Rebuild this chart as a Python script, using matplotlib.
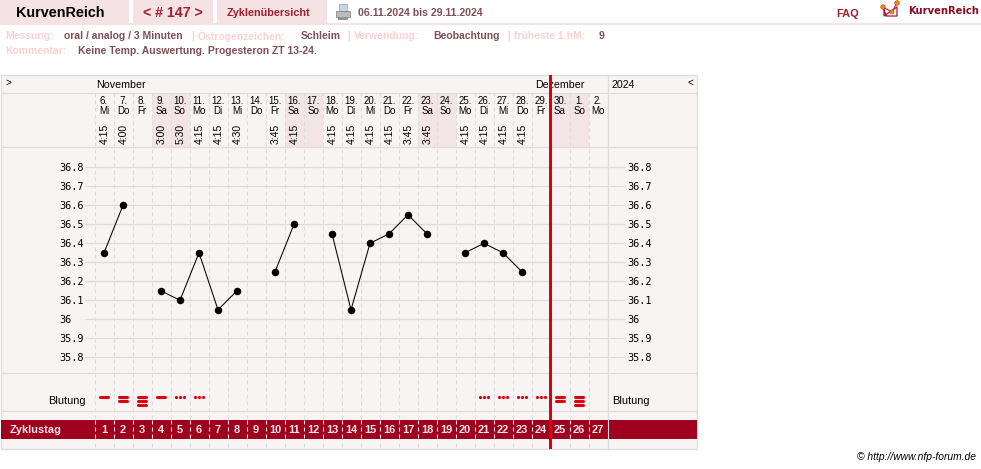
import numpy as np
import matplotlib
matplotlib.use("Agg")
import matplotlib.pyplot as plt
from matplotlib.patches import Rectangle, Circle

plt.rcParams["font.family"] = "Liberation Sans"

# Chart data
cycle_days = list(range(1, 28))
dates = ["6.", "7.", "8.", "9.", "10.", "11.", "12.", "13.", "14.", "15.", "16.", "17.", "18.", "19.",
         "20.", "21.", "22.", "23.", "24.", "25.", "26.", "27.", "28.", "29.", "30.", "1.", "2."]
weekdays = ["Mi", "Do", "Fr", "Sa", "So", "Mo", "Di", "Mi", "Do", "Fr", "Sa", "So", "Mo", "Di",
            "Mi", "Do", "Fr", "Sa", "So", "Mo", "Di", "Mi", "Do", "Fr", "Sa", "So", "Mo"]
times = ["4:15", "4:00", "", "3:00", "5:30", "4:15", "4:15", "4:30", "", "3:45", "4:15", "", "4:15", "4:15",
         "4:15", "4:15", "3:45", "3:45", "", "4:15", "4:15", "4:15", "4:15", "", "", "", ""]
temps = [36.35, 36.6, np.nan, 36.15, 36.1, 36.35, 36.05, 36.15, np.nan, 36.25, 36.5, np.nan, 36.45, 36.05,
         36.4, 36.45, 36.55, 36.45, np.nan, 36.35, 36.4, 36.35, 36.25, np.nan, np.nan, np.nan, np.nan]
# 0 none, 1/2/3 number of bars, -1 spotting dots
bleeding = [1, 2, 3, 1, -1, -1, 0, 0, 0, 0, 0, 0, 0, 0, 0, 0, 0, 0, 0, 0, -1, -1, -1, -1, 2, 3, 0]
temp_ticks = [35.8, 35.9, 36.0, 36.1, 36.2, 36.3, 36.4, 36.5, 36.6, 36.7, 36.8]
temp_labels = ["35.8", "35.9", "36", "36.1", "36.2", "36.3", "36.4", "36.5", "36.6", "36.7", "36.8"]
marker_after_day = 24.5

# Colours
PANEL = "#f9f4f4"
TAB = "#f4e2e4"
SHADE = "#f3e5e7"
GRID = "#dedcdc"
BAND = "#9e001e"
RED = "#dd0010"
DARK = "#a01f2e"
LABEL = "#fbd2d2"
VALUE = "#7d5057"

W, H = 981, 469
fig = plt.figure(figsize=(W / 100, H / 100), dpi=100, facecolor="white")

# Pixel canvas for all the page furniture
bg = fig.add_axes([0, 0, 1, 1], zorder=1)
bg.set_xlim(0, W)
bg.set_ylim(H, 0)
bg.axis("off")


def day_x(d):
    return 104 + 19 * (d - 1)


def hline(y, x0=0.5, x1=697, color=GRID, lw=0.9):
    bg.plot([x0, x1], [y, y], color=color, lw=lw, solid_capstyle="butt", zorder=2)


def txt(x, y, s, size=7.9, color="black", weight="normal", ha="left", **kw):
    bg.text(x, y, s, fontsize=size, color=color, fontweight=weight, ha=ha, va="center", zorder=6, **kw)


# Top tabs
for x0, x1 in [(0, 129), (133, 213), (217, 327)]:
    bg.add_patch(Rectangle((x0, 0), x1 - x0, 23, color=TAB, lw=0))
bg.add_patch(Rectangle((0, 23), W, 2, color=TAB, lw=0))
txt(16, 13, "KurvenReich", size=10.4, weight="bold")
txt(143, 13, "< # 147 >", size=10.2, color=DARK, weight="bold")
txt(227, 13, "Zyklenübersicht", size=7.8, color=DARK, weight="bold")
txt(358, 12.5, "06.11.2024 bis 29.11.2024", size=7.6, color=VALUE, weight="bold")
txt(836, 14, "FAQ", size=7.9, color=DARK, weight="bold")
txt(908, 10.5, "KurvenReich", size=7.2, color="#8b0a1e", weight="bold", family="DejaVu Sans")

# Printer icon
bg.add_patch(Rectangle((339, 4), 8, 7, color="#c9d6e6", ec="#8a9aa8", lw=0.5))
bg.add_patch(Rectangle((336, 11), 14, 6, color="#b9bdc0", ec="#777777", lw=0.5))
bg.add_patch(Rectangle((338, 17), 10, 3, color="#8f9396", lw=0))

# Logo
bg.plot([884, 886, 897, 897, 884, 884], [9, 16, 16, 7, 16, 9], color="#b0103a", lw=0.9, zorder=3)
bg.plot([883, 892, 897], [7, 12, 3], color="#d0203a", lw=0.8, zorder=3)
for cx, cy, r in [(883, 7, 2.3), (892, 12, 2), (897, 3, 2.3)]:
    bg.add_patch(Circle((cx, cy), r, color="#ee8a10", ec="#c04010", lw=0.4, zorder=4))

# Meta rows
meta = [(5, "Messung:", LABEL), (64, "oral / analog / 3 Minuten", VALUE), (191, "|", LABEL),
        (198, "Östrogenzeichen:", LABEL), (301, "Schleim", VALUE), (347, "|", LABEL),
        (354, "Verwendung:", LABEL), (433, "Beobachtung", VALUE), (507, "|", LABEL),
        (514, "früheste 1.hM:", LABEL), (599, "9", VALUE)]
for x, s, c in meta:
    txt(x, 36, s, size=7.5, color=c, weight="bold")
txt(5, 51, "Kommentar:", size=7.5, color=LABEL, weight="bold")
txt(78, 51, "Keine Temp. Auswertung. Progesteron ZT 13-24.", size=7.5, color=VALUE, weight="bold")

# Panel
bg.add_patch(Rectangle((0.5, 75), 696.5, 374, facecolor=PANEL, edgecolor="none", zorder=1))
for d in cycle_days:
    if weekdays[d - 1] in ("Sa", "So"):
        bg.add_patch(Rectangle((day_x(d) - 9.5, 93), 19, 55, color=SHADE, lw=0, zorder=1.5))
bg.add_patch(Rectangle((0.5, 420), 696.5, 19, color=BAND, lw=0, zorder=3))

for y in [75, 93, 147.5, 373.5, 411, 449.3]:
    hline(y)
for x in [0.5, 697]:
    bg.plot([x, x], [75, 449.3], color=GRID, lw=0.9, zorder=2)
bg.plot([607.5, 607.5], [75, 449.3], color=GRID, lw=0.9, zorder=2)

# Column separators
for d in cycle_days:
    x = day_x(d) - 9.5
    bg.plot([x, x], [93, 449], color=GRID, lw=0.8, dashes=(3.6, 2.7), zorder=1.8)
    bg.plot([x, x], [420, 439], color="#f2e4e6", lw=0.8, dashes=(3.6, 2.7), zorder=4)
bg.plot([607.5, 607.5], [420, 439], color="#e8e0e0", lw=0.8, zorder=4)

# Header text
txt(96, 85, "November", size=7.7)
txt(535, 85, "Dezember", size=7.7)
txt(612, 85, "2024", size=7.7)
txt(5, 83, ">", size=7.2)
txt(687, 83, "<", size=7.2)
for d, date, wd, t in zip(cycle_days, dates, weekdays, times):
    txt(day_x(d), 101, date, size=7, ha="center")
    txt(day_x(d), 111, wd, size=7, ha="center")
    if t:
        bg.text(day_x(d) + 0.5, 134, t, fontsize=7.5, rotation=90, ha="center", va="center", zorder=6)

# Temperature curve, the axes spans the grid lines only
ax = fig.add_axes([85 / W, 1 - 373 / H, (626 - 85) / W, (373 - 148) / H], zorder=3)
ax.patch.set_alpha(0)
ax.set_xlim(1 + (85 - 104) / 19, 1 + (626 - 104) / 19)
ax.set_ylim(36.8 - (373 - 167.3) / 190, 36.8 - (148 - 167.3) / 190)
for s in ax.spines.values():
    s.set_visible(False)
ax.set_xticks([])
ax.set_yticks(temp_ticks)
ax.set_yticklabels(temp_labels, family="DejaVu Sans Mono", fontsize=7.4)
ax.tick_params(axis="y", length=0, pad=18.7)
for lab in ax.get_yticklabels():
    lab.set_ha("left")
ax.yaxis.grid(True, color=GRID, lw=0.9)
ax.set_axisbelow(True)
ax.plot(cycle_days, temps, color="black", lw=0.75, marker="o", ms=4.4, mfc="black", mec="black", zorder=4)

# Right hand copy of the temperature scale
axr = ax.twinx()
axr.set_ylim(ax.get_ylim())
for s in axr.spines.values():
    s.set_visible(False)
axr.set_yticks(temp_ticks)
axr.set_yticklabels(temp_labels, family="DejaVu Sans Mono", fontsize=7.4)
axr.tick_params(axis="y", length=0, pad=0.8)

# Bleeding row
txt(86, 401, "Blutung", size=7.9, ha="right")
txt(612, 401, "Blutung", size=7.9)
for d, b in zip(cycle_days, bleeding):
    x = day_x(d)
    if b > 0:
        for i in range(b):
            y = 397.3 + 4 * i
            bg.plot([x - 4.2, x + 4.2], [y, y], color=RED, lw=2.2, solid_capstyle="round", zorder=5)
    elif b < 0:
        bg.plot([x - 4.3, x, x + 4.3], [397.5] * 3, ls="none", marker="o", ms=2.3, color=RED, mew=0, zorder=5)

# Cycle day band
txt(10, 430, "Zyklustag", size=7.9, color="#f5e8ea", weight="bold")
for d in cycle_days:
    txt(day_x(d), 430, str(d), size=7.9, color="#f5e8ea", weight="bold", ha="center")

# Current cycle end marker, on its own layer above the grid
top = fig.add_axes([0, 0, 1, 1], zorder=5)
top.set_xlim(0, W)
top.set_ylim(H, 0)
top.axis("off")
xm = day_x(marker_after_day)
top.add_patch(Rectangle((xm - 1.6, 75), 3.2, 374.3, color=RED, lw=0))

txt(976, 457, "© http://www.nfp-forum.de", size=7.4, ha="right", style="italic")

fig.savefig("out.png", dpi=100)
